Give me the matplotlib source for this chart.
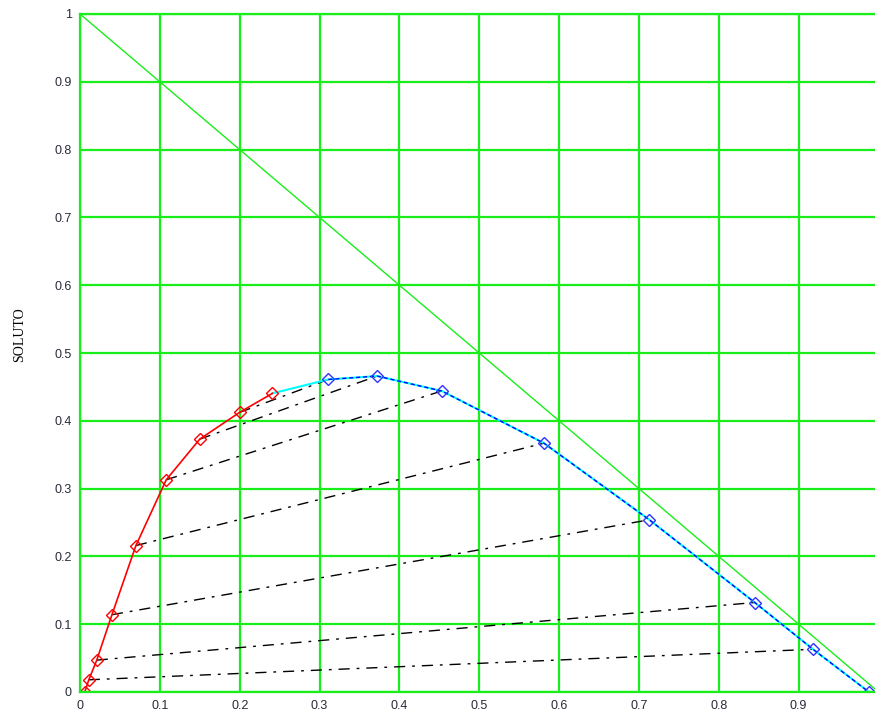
import matplotlib
matplotlib.use('Agg')
import matplotlib.pyplot as plt

# binodal curve, raffinate side (red) and extract side (blue)
raf_x = [0.006, 0.011, 0.021, 0.040, 0.070, 0.108, 0.150, 0.200, 0.241]
raf_y = [0.000, 0.018, 0.047, 0.114, 0.216, 0.313, 0.373, 0.4125, 0.4405]
ext_x = [0.311, 0.372, 0.453, 0.581, 0.713, 0.845, 0.918, 0.988]
ext_y = [0.461, 0.466, 0.444, 0.367, 0.254, 0.132, 0.063, 0.000]

# tie lines: raffinate point index -> extract point index
tie_raf = [1, 2, 3, 4, 5, 6, 7]
tie_ext = [6, 5, 4, 3, 2, 1, 0]

# hypotenuse of the triangle
diag_x = [0.0, 1.0]
diag_y = [1.0, 0.0]

x_ticks = [0, 0.1, 0.2, 0.3, 0.4, 0.5, 0.6, 0.7, 0.8, 0.9]
x_labels = ['0', '0.1', '0.2', '0.3', '0.4', '0.5', '0.6', '0.7', '0.8', '0.9']
y_ticks = [0, 0.1, 0.2, 0.3, 0.4, 0.5, 0.6, 0.7, 0.8, 0.9, 1.0]
y_labels = ['0', '0.1', '0.2', '0.3', '0.4', '0.5', '0.6', '0.7', '0.8', '0.9', '1']

green = '#1aee1a'

fig = plt.figure(figsize=(8.75, 7.14), dpi=100)
ax = fig.add_axes([80 / 875, 22 / 714, 798.5 / 875, 678 / 714])
ax.set_xlim(0, 1)
ax.set_ylim(0, 1)

ax.set_xticks(x_ticks + [1.0])
ax.set_xticklabels(x_labels + [''])
ax.set_yticks(y_ticks)
ax.set_yticklabels(y_labels)
ax.tick_params(length=0, pad=6, labelsize=9, labelcolor='#2a2a3a')
for lab in ax.get_xticklabels() + ax.get_yticklabels():
    lab.set_family('Liberation Sans')
ax.grid(True, color=green, lw=1.6)
ax.set_axisbelow(True)
for s in ax.spines.values():
    s.set_color(green)
    s.set_linewidth(1.6)

ax.plot(diag_x, diag_y, color=green, lw=1)

for i, j in zip(tie_raf, tie_ext):
    ax.plot([raf_x[i], ext_x[j]], [raf_y[i], ext_y[j]], color='black',
            lw=1, linestyle=(0, (8, 5, 2, 5)))

ax.plot([raf_x[-1]] + ext_x, [raf_y[-1]] + ext_y, color='cyan', lw=1.5)
ax.plot(ext_x, ext_y, color='blue', lw=1, linestyle=(0, (3, 2)),
        marker='D', mfc='none', mec='#3333ff', ms=6.5, mew=1)
ax.plot(raf_x, raf_y, color='red', lw=1.2,
        marker='D', mfc='none', mec='red', ms=6.5, mew=1)

fig.text(20 / 875, 1 - 335 / 714, 'SOLUTO', rotation=90, ha='center',
         va='center', family='Liberation Serif', fontsize=10)

fig.savefig('out.png', dpi=100)
